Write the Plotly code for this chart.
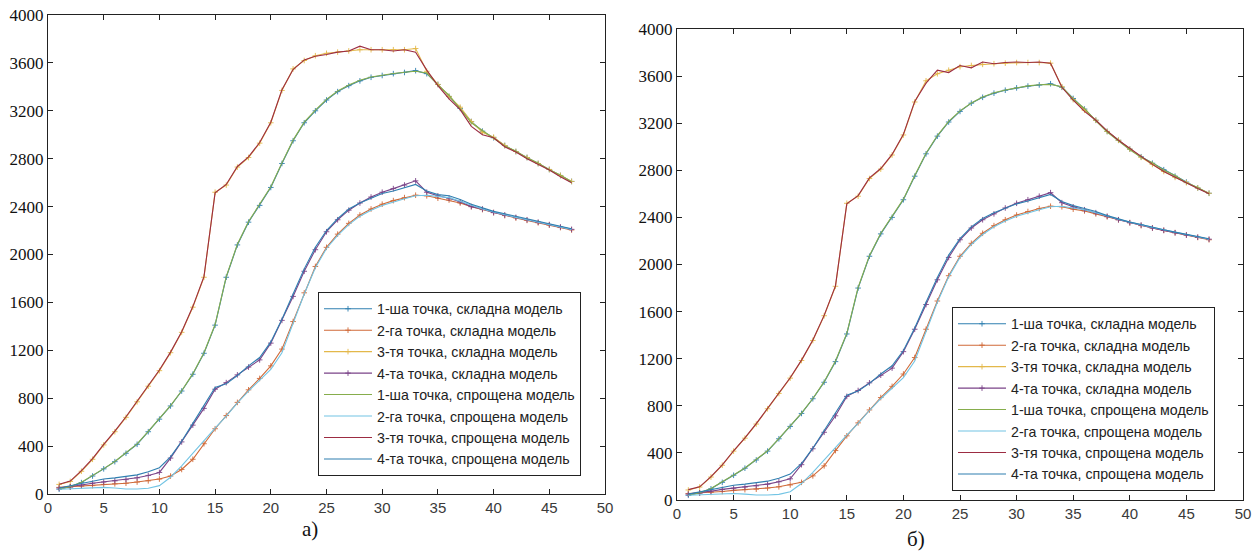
import plotly.graph_objects as go

X = list(range(1, 48))

NAMES = ["1-ша точка, складна модель", "2-га точка, складна модель",
         "3-тя точка, складна модель", "4-та точка, складна модель",
         "1-ша точка, спрощена модель", "2-га точка, спрощена модель",
         "3-тя точка, спрощена модель", "4-та точка, спрощена модель"]
COLORS = ["#2f7fb0", "#d06a38", "#e3b84a", "#7a4388",
          "#86ad4c", "#72c4e4", "#9c2c42", "#2f7fb0"]

X_TICKS = [0, 5, 10, 15, 20, 25, 30, 35, 40, 45, 50]
Y_TICKS = [0, 400, 800, 1200, 1600, 2000, 2400, 2800, 3200, 3600, 4000]

# ---- panel а) ----
A_1s = [40, 60, 95, 150, 210, 270, 340, 415, 520, 625, 735, 860, 1000, 1175, 1410, 1810,
        2080, 2270, 2410, 2560, 2760, 2950, 3100, 3200, 3290, 3360, 3410, 3450, 3480, 3495,
        3510, 3520, 3535, 3510, 3420, 3320, 3220, 3110, 3030, 2975, 2910, 2860, 2810, 2760,
        2710, 2660, 2610]
A_2s = [55, 60, 65, 70, 80, 85, 90, 100, 110, 125, 150, 205, 290, 420, 545, 655, 765, 870,
        965, 1070, 1210, 1440, 1680, 1900, 2060, 2170, 2260, 2330, 2380, 2420, 2450, 2475,
        2495, 2490, 2470, 2455, 2430, 2400, 2375, 2350, 2325, 2305, 2285, 2265, 2245, 2225,
        2205]
A_3s = [80, 105, 190, 290, 410, 520, 640, 770, 900, 1030, 1180, 1350, 1560, 1810, 2520,
        2580, 2730, 2810, 2930, 3100, 3370, 3550, 3620, 3660, 3680, 3690, 3700, 3710, 3710,
        3710, 3710, 3710, 3720, 3530, 3420, 3320, 3230, 3110, 3020, 2980, 2910, 2860, 2810,
        2760, 2710, 2660, 2610]
A_4s = [50, 60, 75, 90, 100, 110, 120, 135, 155, 180, 300, 435, 575, 715, 875, 930, 995,
        1060, 1120, 1260, 1450, 1650, 1860, 2040, 2190, 2290, 2370, 2430, 2480, 2520, 2550,
        2580, 2615, 2520, 2490, 2470, 2440, 2400, 2380, 2350, 2330, 2310, 2290, 2270, 2250,
        2230, 2210]
A_1p = [40, 62, 98, 152, 212, 272, 342, 418, 522, 628, 738, 862, 1005, 1180, 1415, 1815,
        2085, 2275, 2415, 2565, 2765, 2955, 3105, 3205, 3295, 3365, 3415, 3455, 3482, 3498,
        3512, 3522, 3530, 3515, 3415, 3330, 3215, 3100, 3035, 2970, 2905, 2865, 2805, 2765,
        2705, 2665, 2605]
A_2p = [40, 45, 50, 52, 55, 50, 42, 42, 48, 70, 140, 235, 340, 450, 550, 650, 760, 860,
        950, 1040, 1180, 1420, 1670, 1890, 2050, 2160, 2250, 2320, 2370, 2410, 2440, 2465,
        2490, 2495, 2485, 2475, 2445, 2410, 2380, 2355, 2330, 2310, 2290, 2270, 2250, 2230,
        2210]
A_3p = [82, 108, 195, 295, 415, 525, 645, 775, 905, 1035, 1185, 1355, 1565, 1815, 2515,
        2585, 2735, 2815, 2935, 3105, 3375, 3545, 3625, 3655, 3670, 3690, 3700, 3740, 3710,
        3710, 3700, 3710, 3690, 3540, 3410, 3300, 3210, 3070, 3000, 2975, 2900, 2855, 2800,
        2755, 2705, 2650, 2600]
A_4p = [50, 70, 90, 110, 125, 135, 145, 160, 185, 220, 310, 440, 590, 740, 890, 920, 990,
        1070, 1140, 1270, 1460, 1670, 1880, 2060, 2200, 2300, 2380, 2430, 2470, 2510, 2530,
        2555, 2585, 2530, 2500, 2490, 2460, 2420, 2390, 2360, 2340, 2320, 2300, 2280, 2260,
        2235, 2215]

# ---- panel б) ----
B_1s = [40, 60, 95, 150, 210, 270, 340, 415, 520, 625, 735, 860, 1000, 1175, 1410, 1800,
        2070, 2260, 2400, 2550, 2750, 2940, 3090, 3210, 3300, 3370, 3420, 3455, 3480, 3500,
        3515, 3525, 3535, 3505, 3410, 3320, 3225, 3130, 3055, 2980, 2915, 2860, 2805, 2750,
        2700, 2650, 2605]
B_2s = [55, 60, 65, 72, 82, 88, 92, 102, 112, 128, 150, 205, 290, 420, 545, 655, 765, 870,
        965, 1070, 1210, 1450, 1690, 1905, 2070, 2180, 2265, 2330, 2380, 2420, 2450, 2475,
        2495, 2490, 2470, 2455, 2430, 2405, 2380, 2355, 2330, 2310, 2290, 2270, 2250, 2230,
        2210]
B_3s = [85, 110, 195, 295, 415, 525, 645, 775, 905, 1035, 1185, 1355, 1565, 1815, 2520,
        2580, 2730, 2810, 2930, 3100, 3380, 3560, 3620, 3650, 3680, 3690, 3700, 3705, 3710,
        3715, 3715, 3715, 3710, 3510, 3400, 3310, 3225, 3130, 3055, 2980, 2910, 2850, 2790,
        2740, 2695, 2650, 2605]
B_4s = [50, 60, 75, 90, 100, 110, 120, 135, 155, 180, 300, 435, 575, 715, 880, 930, 995,
        1060, 1120, 1260, 1450, 1660, 1870, 2060, 2210, 2310, 2380, 2430, 2480, 2520, 2550,
        2580, 2610, 2525, 2490, 2465, 2440, 2410, 2380, 2355, 2335, 2310, 2290, 2270, 2250,
        2232, 2215]
B_1p = [40, 62, 98, 152, 212, 272, 342, 418, 522, 628, 738, 862, 1005, 1180, 1415, 1805,
        2075, 2265, 2405, 2555, 2755, 2945, 3095, 3215, 3305, 3372, 3422, 3458, 3482, 3502,
        3517, 3527, 3530, 3510, 3405, 3325, 3220, 3125, 3050, 2975, 2910, 2865, 2800, 2755,
        2695, 2655, 2600]
B_2p = [40, 45, 50, 52, 55, 50, 42, 42, 48, 70, 140, 235, 340, 450, 550, 650, 760, 860,
        950, 1040, 1180, 1430, 1680, 1895, 2060, 2170, 2255, 2320, 2370, 2410, 2440, 2465,
        2490, 2495, 2480, 2465, 2440, 2410, 2385, 2360, 2335, 2315, 2295, 2275, 2255, 2235,
        2215]
B_3p = [88, 112, 198, 298, 418, 528, 648, 778, 908, 1038, 1188, 1358, 1568, 1818, 2515,
        2585, 2735, 2815, 2935, 3105, 3385, 3540, 3650, 3630, 3690, 3670, 3720, 3705, 3715,
        3720, 3715, 3720, 3710, 3505, 3395, 3300, 3225, 3135, 3055, 2985, 2915, 2850, 2790,
        2740, 2690, 2645, 2600]
B_4p = [50, 70, 90, 110, 125, 135, 145, 160, 185, 220, 310, 440, 590, 740, 890, 925, 990,
        1070, 1140, 1270, 1460, 1680, 1890, 2080, 2220, 2320, 2390, 2440, 2480, 2515, 2540,
        2565, 2595, 2535, 2500, 2475, 2450, 2415, 2385, 2360, 2340, 2315, 2295, 2275, 2255,
        2235, 2218]

PANEL_A = [A_1s, A_2s, A_3s, A_4s, A_1p, A_2p, A_3p, A_4p]
PANEL_B = [B_1s, B_2s, B_3s, B_4s, B_1p, B_2p, B_3p, B_4p]

W, H = 1257, 554

fig = go.Figure()


def add_panel(series, xa, ya, legend):
    for i, (name, ys) in enumerate(zip(NAMES, series)):
        complex_model = i < 4
        fig.add_trace(go.Scatter(
            x=X, y=ys, name=name, xaxis=xa, yaxis=ya, legend=legend,
            mode="lines+markers" if complex_model else "lines",
            line=dict(color=COLORS[i], width=1.1),
            marker=dict(symbol="cross-thin", size=4,
                        line=dict(color=COLORS[i], width=0.9)),
        ))


add_panel(PANEL_A, "x", "y", "legend")
add_panel(PANEL_B, "x2", "y2", "legend2")


def px_x(p):
    return p / W


def px_y(p):
    return 1 - p / H


axis_common = dict(showline=True, linecolor="#222", linewidth=1, mirror="ticks",
                   ticks="inside", ticklen=5, tickcolor="#222", showgrid=False,
                   zeroline=False, automargin=False)
xfont = dict(family="Liberation Sans", size=15, color="#3a3a3a")
yfont = dict(family="Liberation Serif", size=17, color="#111")

legend_common = dict(bgcolor="white", bordercolor="#222", borderwidth=1,
                     font=dict(family="Liberation Sans", size=14.2, color="#222"),
                     xanchor="left", yanchor="top", tracegroupgap=0, itemwidth=48)

fig.update_layout(
    template="none",
    width=W, height=H, margin=dict(l=0, r=0, t=0, b=0, autoexpand=False),
    paper_bgcolor="white", plot_bgcolor="white",
    showlegend=True,
    xaxis=dict(domain=[px_x(48), px_x(605)], range=[0, 50], tickvals=X_TICKS,
               tickfont=xfont, anchor="y", **axis_common),
    yaxis=dict(domain=[px_y(494), px_y(15)], range=[0, 4000], tickvals=Y_TICKS,
               tickfont=yfont, anchor="x", **axis_common),
    xaxis2=dict(domain=[px_x(677), px_x(1243)], range=[0, 50], tickvals=X_TICKS,
                tickfont=xfont, anchor="y2", **axis_common),
    yaxis2=dict(domain=[px_y(500), px_y(29)], range=[0, 4000], tickvals=Y_TICKS,
                tickfont=yfont, anchor="x2", **axis_common),
    legend=dict(x=px_x(318), y=px_y(292), **legend_common),
    legend2=dict(x=px_x(952), y=px_y(307), **legend_common),
    annotations=[
        dict(text="а)", x=px_x(310), y=px_y(529), xref="paper", yref="paper",
             xanchor="center", yanchor="middle", showarrow=False,
             font=dict(family="Liberation Serif", size=21, color="#111")),
        dict(text="б)", x=px_x(916), y=px_y(539), xref="paper", yref="paper",
             xanchor="center", yanchor="middle", showarrow=False,
             font=dict(family="Liberation Serif", size=21, color="#111")),
    ],
)

fig.write_html("out.html")
